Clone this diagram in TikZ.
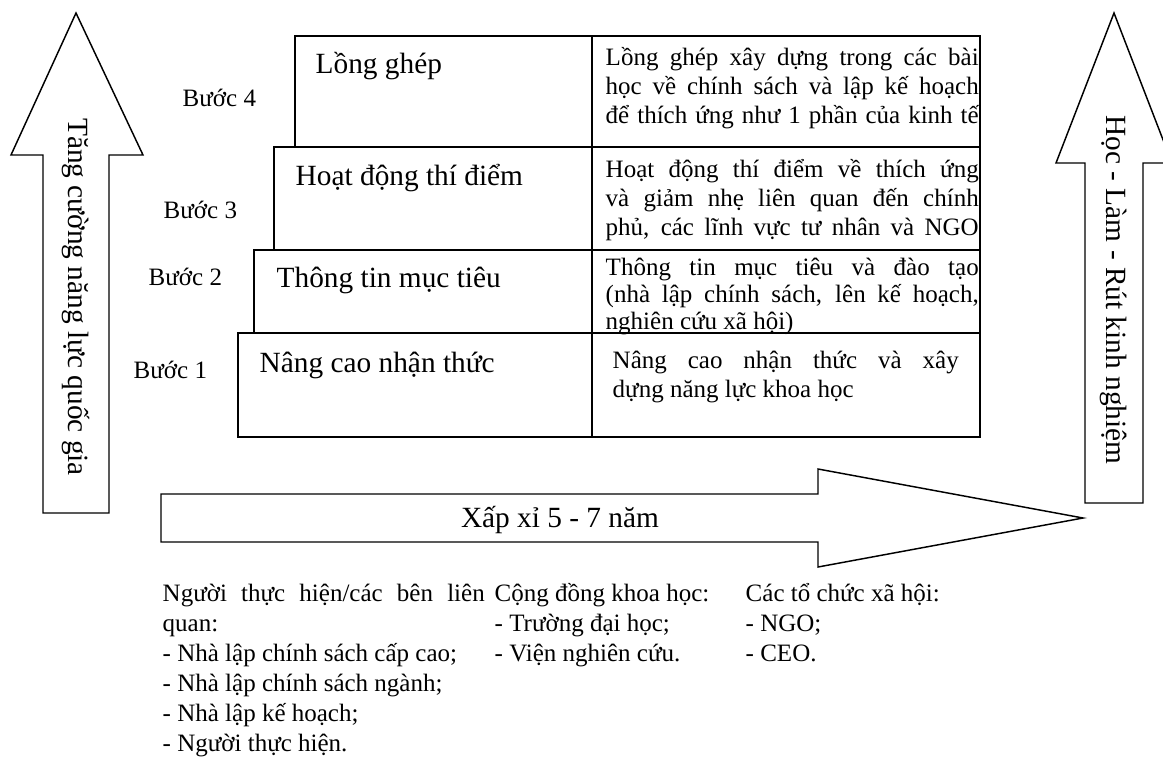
\documentclass[tikz,border=0pt]{standalone}
\usepackage{fontspec}
\setmainfont{Liberation Serif}
\newcommand{\JL}[1]{\makebox[\linewidth][s]{#1}}
\begin{document}
\begin{tikzpicture}[x=0.75pt,y=-0.75pt, line width=1.1pt, line join=miter,
  small/.style={font=\fontsize{18.75}{22}\selectfont, inner sep=0pt},
  big/.style={font=\fontsize{22}{26}\selectfont, inner sep=0pt},
  para/.style={small, anchor=base west},
  arrowshape/.style={draw=black, fill=white}]
\clip (0,0) rectangle (1163,760);
\fill[white] (0,0) rectangle (1163,760);

% big arrows
\draw[arrowshape] (76,13) -- (143,155) -- (109,155) -- (109,513) -- (43,513) -- (43,155) -- (11,155) -- cycle;
\draw[arrowshape] (1114,13) -- (1172,163) -- (1143,163) -- (1143,503) -- (1085,503) -- (1085,163) -- (1056,163) -- cycle;
\draw[arrowshape] (161,494) -- (818,494) -- (818,469) -- (1083,518) -- (818,567) -- (818,542) -- (161,542) -- cycle;

\node[big, rotate=-90] (leftarrow) at (76,297) {Tăng cường năng lực quốc gia};
\node[big, rotate=-90] (rightarrow) at (1114,290) {Học - Làm - Rút kinh nghiệm};
\node[big, anchor=base] (time) at (560,527) {Xấp xỉ 5 - 7 năm};

% step boxes
\draw (295,36) rectangle (980,147);
\draw (274,147) rectangle (980,250);
\draw (254,250) rectangle (980,333);
\draw (238,333) rectangle (980,437);
\draw (592,36) -- (592,437);

% step labels
\node[small, anchor=base west] (b4) at (182,106) {Bước 4};
\node[small, anchor=base west] (b3) at (163,218) {Bước 3};
\node[small, anchor=base west] (b2) at (148,285) {Bước 2};
\node[small, anchor=base west] (b1) at (133,378) {Bước 1};

% left column titles
\node[big, anchor=base west] (l4) at (315,73) {Lồng ghép};
\node[big, anchor=base west] (l3) at (295,185) {Hoạt động thí điểm};
\node[big, anchor=base west] (l2) at (276,287) {Thông tin mục tiêu};
\node[big, anchor=base west] (l1) at (259,372) {Nâng cao nhận thức};

% right column descriptions
\node[para] (r4) at (605,65) {\parbox[t]{279.75pt}{\fontsize{18.75}{21.75}\selectfont
\JL{Lồng ghép xây dựng trong các bài}\\
\JL{học về chính sách và lập kế hoạch}\\
\JL{để thích ứng như 1 phần của kinh tế}}};
\node[para] (r3) at (605,177) {\parbox[t]{279.75pt}{\fontsize{18.75}{21.75}\selectfont
\JL{Hoạt động thí điểm về thích ứng}\\
\JL{và giảm nhẹ liên quan đến chính}\\
\JL{phủ, các lĩnh vực tư nhân và NGO}}};
\node[para] (r2) at (605,275) {\parbox[t]{279.75pt}{\fontsize{18.75}{20.25}\selectfont
\JL{Thông tin mục tiêu và đào tạo}\\
\JL{(nhà lập chính sách, lên kế hoạch,}\\
nghiên cứu xã hội)}};
\node[para] (r1) at (612,368) {\parbox[t]{259.5pt}{\fontsize{18.75}{21.75}\selectfont
\JL{Nâng cao nhận thức và xây}\\
dựng năng lực khoa học}};

% bottom lists
\node[para] (c1) at (162,601) {\parbox[t]{241.5pt}{\fontsize{18.75}{22.5}\selectfont
\JL{Người thực hiện/các bên liên}\\
quan:\\
- Nhà lập chính sách cấp cao;\\
- Nhà lập chính sách ngành;\\
- Nhà lập kế hoạch;\\
- Người thực hiện.}};
\node[para] (c2) at (494,601) {\parbox[t]{200pt}{\raggedright\fontsize{18.75}{22.5}\selectfont
Cộng đồng khoa học:\\
- Trường đại học;\\
- Viện nghiên cứu.}};
\node[para] (c3) at (745,601) {\parbox[t]{200pt}{\raggedright\fontsize{18.75}{22.5}\selectfont
Các tổ chức xã hội:\\
- NGO;\\
- CEO.}};
\end{tikzpicture}
\end{document}
